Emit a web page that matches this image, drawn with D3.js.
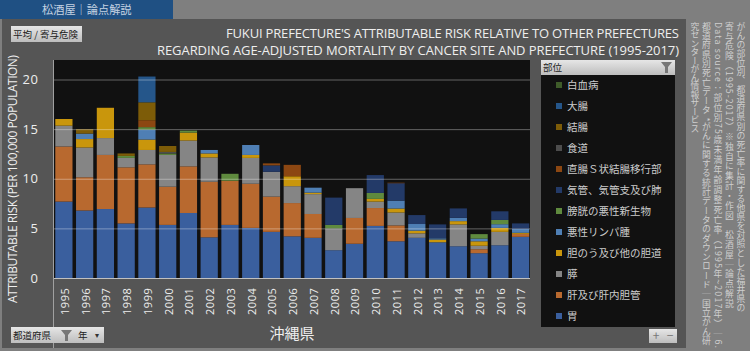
<!DOCTYPE html>
<html>
<head>
<meta charset="utf-8">
<script src="https://cdn.jsdelivr.net/npm/d3@7"></script>
<style>
  html, body { margin: 0; padding: 0; background: #7f7f7f; }
  svg { display: block; }
  text { font-family: "Noto Sans CJK JP", "Open Sans", sans-serif; }
</style>
</head>
<body>
<svg id="chart" width="750" height="351"></svg>
<script>
const years = ["1995","1996","1997","1998","1999","2000","2001","2002","2003","2004","2005","2006",
  "2007","2008","2009","2010","2011","2012","2013","2014","2015","2016","2017"];

// one array per cancer site, bottom of the stack first
const stomach  = [7.7,6.8,6.95,5.5,7.1,5.35,6.55,4.1,5.35,5.05,4.65,4.2,4.05,2.8,3.45,5.25,3.7,4.05,3.6,3.2,2.5,3.3,4.15];
const liver    = [5.55,3.35,5.45,5.65,4.35,3.85,4.7,5.6,4.45,4.45,3.55,3.35,2.4,0,2.6,1.8,1.6,0,0,0,0.4,0,0.3];
const pancreas = [2.1,3.0,1.7,0.95,1.45,3.2,2.6,2.45,0,2.6,2.5,1.7,2.0,2.2,3.0,0.65,1.3,0.45,0,2.2,0.35,1.35,0];
const gall     = [0.67,0.85,3.05,0,1.05,0,0.8,0.4,0,0.3,0,1.0,0.15,0,0,0.27,0.4,0.27,0.27,0.33,0.45,0.4,0.1];
const lymph    = [0,0.55,0,0,1.0,0,0,0.35,0,1.0,0,0,0.5,0,0,0,0.8,0.67,0.13,0.33,0.27,0.37,0.4];
const bladder  = [0,0,0,0.2,0.25,0.15,0.2,0,0.7,0,0,0,0,0.35,0,0.6,0,0,0,0,0.45,0.43,0];
const lung     = [0,0,0,0,0,0,0,0,0,0,0.65,0,0,2.75,0,1.8,1.75,0.9,1.4,0.95,0,0.87,0.55];
const rectum   = [0,0,0,0,0.7,0,0,0,0,0,0.2,1.15,0,0,0,0,0.05,0,0,0,0,0,0];
const esophagus = [0,0,0,0,0,0.15,0,0,0,0,0,0,0,0,0,0,0,0,0,0,0,0,0];
const colon    = [0,0.45,0,0.25,1.8,0.6,0,0,0,0,0,0,0,0,0,0,0,0,0,0,0,0,0];
const largeInt = [0,0,0,0,2.6,0,0,0,0,0,0,0,0,0,0,0,0,0,0,0,0,0,0];
const leukemia = [0,0,0,0,0,0,0,0,0,0,0,0,0,0,0,0,0,0,0,0,0,0,0];

const siteNames = ["胃","肝及び肝内胆管","膵","胆のう及び他の胆道","悪性リンパ腫","膀胱の悪性新生物",
  "気管、気管支及び肺","直腸Ｓ状結腸移行部","食道","結腸","大腸","白血病"];
const siteValues = [stomach,liver,pancreas,gall,lymph,bladder,lung,rectum,esophagus,colon,largeInt,leukemia];
const siteColors = ["#3a5f9e","#b8692f","#858585","#c9960c","#4f7fb4","#5f8a3e",
  "#233a68","#8c4712","#4d4d4d","#7d5c08","#25568a","#3f5c2a"];
const yTicks = [0,5,10,15,20];

const noteLines = [
  "がんの部位別、都道府県別の死亡率に関する他県を対照とした福井県の",
  "寄与危険（1995-2017）※独自に集計・作図　松酒屋｜論点解説",
  "Data source：部位別75歳未満年齢調整死亡率（1995年~2017年）｜6.",
  "都道府県別死亡データ *がんに関する統計データのダウンロード｜国立がん研",
  "究センターがん情報サービス"
];

const svg = d3.select("#chart");

const plotLeft = 54, plotRight = 530, plotTop = 60, plotBottom = 278;

// page pieces
svg.append("rect").attr("x", 2).attr("y", 19).attr("width", 684).attr("height", 329).attr("fill", "#555");
svg.append("rect").attr("width", 173).attr("height", 19).attr("fill", "#1f5083");
svg.append("text").attr("x", 42).attr("y", 14).attr("font-size", 11.2).attr("fill", "#c5d3e2").text("松酒屋｜論点解説");

// gradient for the little slicer buttons
const grad = svg.append("defs").append("linearGradient").attr("id", "btn").attr("x2", 0).attr("y2", 1);
grad.append("stop").attr("offset", 0).attr("stop-color", "#e6e6e6");
grad.append("stop").attr("offset", 1).attr("stop-color", "#bdbdbd");

function button(x, y, w, h, label, size) {
  svg.append("rect").attr("x", x).attr("y", y).attr("width", w).attr("height", h).attr("fill", "url(#btn)");
  svg.append("text").attr("x", x + 2).attr("y", y + h - 4).attr("font-size", size || 9.5).attr("fill", "#222").text(label);
}
function funnel(x, y) {
  svg.append("path").attr("d", d3.line()([[x, y], [x + 11, y], [x + 7, y + 5], [x + 7, y + 11], [x + 4, y + 11], [x + 4, y + 5]]) + "Z")
    .attr("fill", "#777");
}

button(11, 26, 71, 16, "平均 / 寄与危険");

svg.append("text").attr("x", 679).attr("y", 37.5).attr("text-anchor", "end")
  .attr("font-size", 13).attr("fill", "#eee").style("font-family", "Open Sans")
  .attr("textLength", 453).attr("lengthAdjust", "spacing")
  .text("FUKUI PREFECTURE'S ATTRIBUTABLE RISK RELATIVE TO OTHER PREFECTURES");
svg.append("text").attr("x", 679).attr("y", 55).attr("text-anchor", "end")
  .attr("font-size", 13).attr("fill", "#eee").style("font-family", "Open Sans")
  .attr("textLength", 522).attr("lengthAdjust", "spacing")
  .text("REGARDING AGE-ADJUSTED MORTALITY BY CANCER SITE AND PREFECTURE (1995-2017)");

// plot
svg.append("rect").attr("x", plotLeft).attr("y", plotTop)
  .attr("width", plotRight - plotLeft).attr("height", plotBottom - plotTop).attr("fill", "#111");

const x = d3.scaleBand().domain(years).range([53.5, 531]).paddingInner(0.17).paddingOuter(0.085);
const y = d3.scaleLinear().domain([0, 20]).range([plotBottom, 79.5]);

const rows = years.map((yr, i) => {
  const row = { year: yr };
  siteNames.forEach((n, j) => { row[n] = siteValues[j][i]; });
  return row;
});
const stacked = d3.stack().keys(siteNames)(rows);

svg.append("g").selectAll("g").data(stacked).join("g")
  .attr("fill", (d, i) => siteColors[i])
  .selectAll("rect").data(d => d).join("rect")
  .attr("x", d => x(d.data.year))
  .attr("width", x.bandwidth())
  .attr("y", d => y(d[1]))
  .attr("height", d => y(d[0]) - y(d[1]));

// gridlines sit over the bars, thin and see-through
svg.append("g").selectAll("line").data(yTicks.slice(1)).join("line")
  .attr("x1", plotLeft).attr("x2", plotRight)
  .attr("y1", d => y(d) + 0.5).attr("y2", d => y(d) + 0.5)
  .attr("stroke", "#fff").attr("stroke-opacity", 0.35);

const yAxis = svg.append("g").attr("transform", `translate(${plotLeft - 0.5},0)`)
  .call(d3.axisLeft(y).tickValues(yTicks).tickSize(0).tickPadding(15));
yAxis.select(".domain").attr("d", `M0,${plotTop}V${plotBottom + 70}`).attr("stroke", "#a0a0a0");
yAxis.selectAll("text").attr("font-size", 13).attr("fill", "#eee")
  .style("font-family", "Open Sans").attr("letter-spacing", 0.6);

const xAxis = svg.append("g").attr("transform", `translate(0,${plotBottom})`)
  .call(d3.axisBottom(x).tickSize(0));
xAxis.select(".domain").attr("d", `M${plotLeft},0.5H${plotRight}`).attr("stroke", "#c0c0c0");
xAxis.selectAll("text")
  .attr("transform", "rotate(-90)")
  .attr("x", -9.5).attr("y", 1).attr("dy", "0.35em")
  .attr("text-anchor", "end")
  .attr("font-size", 11).attr("fill", "#eee")
  .style("font-family", "Open Sans").attr("letter-spacing", 0.6);

svg.append("text").attr("transform", "translate(17,179) rotate(-90)").attr("text-anchor", "middle")
  .attr("font-size", 12).attr("fill", "#eee").style("font-family", "Open Sans")
  .attr("textLength", 248).attr("lengthAdjust", "spacing")
  .text("ATTRIBUTABLE RISK (PER 100,000 POPULATION)");

svg.append("text").attr("x", 292).attr("y", 339).attr("text-anchor", "middle")
  .attr("font-size", 15).attr("fill", "#eee").text("沖縄県");

// slicers under the plot
button(11, 327, 65, 16, "都道府県");
funnel(61, 330);
button(76, 327, 28, 16, "年");
svg.append("text").attr("x", 95).attr("y", 338).attr("font-size", 8).attr("fill", "#333").text("▾");

// legend panel
svg.append("rect").attr("x", 541).attr("y", 60).attr("width", 134).attr("height", 267).attr("fill", "#111");
button(541, 60, 134, 15, "部位");
funnel(661, 62);

const legendY = d3.scalePoint().domain(siteNames.slice().reverse()).range([85, 316]);
const legend = svg.append("g").selectAll("g").data(siteNames).join("g")
  .attr("transform", d => `translate(0,${legendY(d)})`);
legend.append("rect").attr("x", 556).attr("y", -3).attr("width", 6).attr("height", 6)
  .attr("fill", (d, i) => siteColors[i]);
legend.append("text").attr("x", 567).attr("y", 4).attr("font-size", 10.5).attr("fill", "#ccc").text(d => d);

button(649, 329, 14, 14, "");
button(663, 329, 14, 14, "");
svg.append("text").attr("x", 656).attr("y", 340).attr("text-anchor", "middle").attr("font-size", 12).attr("fill", "#777").text("+");
svg.append("text").attr("x", 670).attr("y", 340).attr("text-anchor", "middle").attr("font-size", 12).attr("fill", "#777").text("−");

// vertical note on the right
const noteX = d3.scalePoint().domain(noteLines).range([741, 695]);
const noteLengths = [290, 286, 326, 323, 111];
svg.append("g").selectAll("text").data(noteLines).join("text")
  .attr("x", d => noteX(d)).attr("y", 22)
  .style("writing-mode", "vertical-rl")
  .attr("font-size", 8.8).attr("fill", "#cfcfcf")
  .attr("textLength", (d, i) => noteLengths[i]).attr("lengthAdjust", "spacing")
  .text(d => d);
</script>
</body>
</html>
